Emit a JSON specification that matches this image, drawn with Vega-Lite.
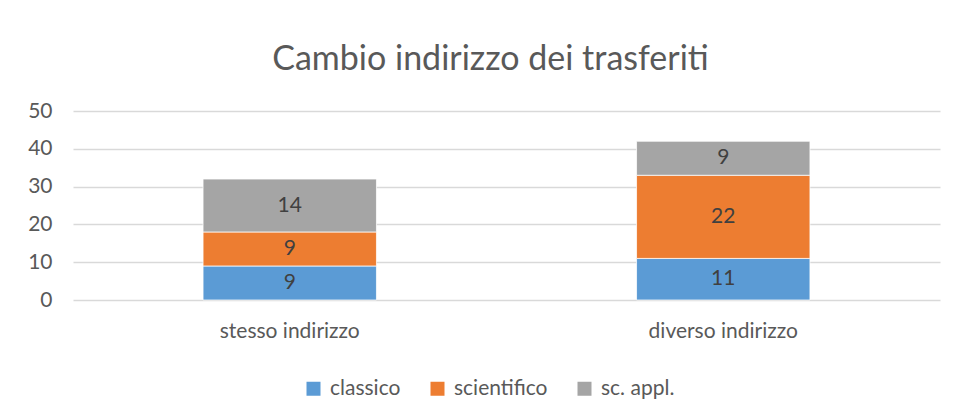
{
  "$schema": "https://vega.github.io/schema/vega-lite/v6.json",
  "width": 867,
  "height": 189,
  "autosize": {"type": "none"},
  "padding": {"left": 73, "top": 111, "right": 15, "bottom": 115},
  "background": "white",
  "title": {
    "text": "Cambio indirizzo dei trasferiti",
    "font": "Lato",
    "fontSize": 34,
    "fontWeight": "normal",
    "color": "#595959",
    "anchor": "middle",
    "frame": "group",
    "dx": -16,
    "offset": 23
  },
  "data": {
    "values": [
      {"cat": "stesso indirizzo", "serie": "classico", "ord": 1, "v": 9},
      {"cat": "stesso indirizzo", "serie": "scientifico", "ord": 2, "v": 9},
      {"cat": "stesso indirizzo", "serie": "sc. appl.", "ord": 3, "v": 14},
      {"cat": "diverso indirizzo", "serie": "classico", "ord": 1, "v": 11},
      {"cat": "diverso indirizzo", "serie": "scientifico", "ord": 2, "v": 22},
      {"cat": "diverso indirizzo", "serie": "sc. appl.", "ord": 3, "v": 9}
    ]
  },
  "transform": [
    {"stack": "v", "groupby": ["cat"], "sort": [{"field": "ord", "order": "ascending"}], "as": ["y0", "y1"]},
    {"calculate": "(datum.y0 + datum.y1) / 2", "as": "mid"}
  ],
  "encoding": {
    "x": {
      "field": "cat",
      "type": "nominal",
      "sort": ["stesso indirizzo", "diverso indirizzo"],
      "scale": {"paddingInner": 0.6, "paddingOuter": 0.3},
      "axis": {
        "title": null,
        "labelAngle": 0,
        "labelFont": "Lato",
        "labelFontSize": 21,
        "labelColor": "#595959",
        "labelPadding": 20,
        "domain": false,
        "ticks": false
      }
    }
  },
  "layer": [
    {
      "mark": {"type": "bar", "stroke": "white", "strokeWidth": 0.75},
      "encoding": {
        "y": {
          "field": "y0",
          "type": "quantitative",
          "scale": {"domain": [0, 50], "nice": false}
        },
        "y2": {"field": "y1"},
        "color": {
          "field": "serie",
          "type": "nominal",
          "scale": {
            "domain": ["classico", "scientifico", "sc. appl."],
            "range": ["#5B9BD5", "#ED7D31", "#A5A5A5"]
          },
          "legend": {
            "title": null,
            "orient": "none",
            "direction": "horizontal",
            "legendX": 230,
            "legendY": 267,
            "symbolType": "square",
            "symbolSize": 196,
            "symbolStrokeWidth": 0,
            "labelFont": "Lato",
            "labelFontSize": 21,
            "labelColor": "#595959",
            "labelOffset": 6,
            "columnPadding": 26
          }
        }
      }
    },
    {
      "mark": {"type": "text", "font": "Lato", "fontSize": 21, "color": "#404040", "baseline": "middle"},
      "encoding": {
        "y": {"field": "mid", "type": "quantitative"},
        "text": {"field": "v", "type": "quantitative"}
      }
    }
  ],
  "config": {
    "view": {"stroke": null},
    "axisY": {
      "title": null,
      "values": [0, 10, 20, 30, 40, 50],
      "labelOverlap": false,
      "labelFont": "Lato",
      "labelFontSize": 21,
      "labelColor": "#595959",
      "labelPadding": 21,
      "domain": false,
      "ticks": false,
      "grid": true,
      "gridColor": "#D9D9D9",
      "gridWidth": 1.5
    }
  }
}
